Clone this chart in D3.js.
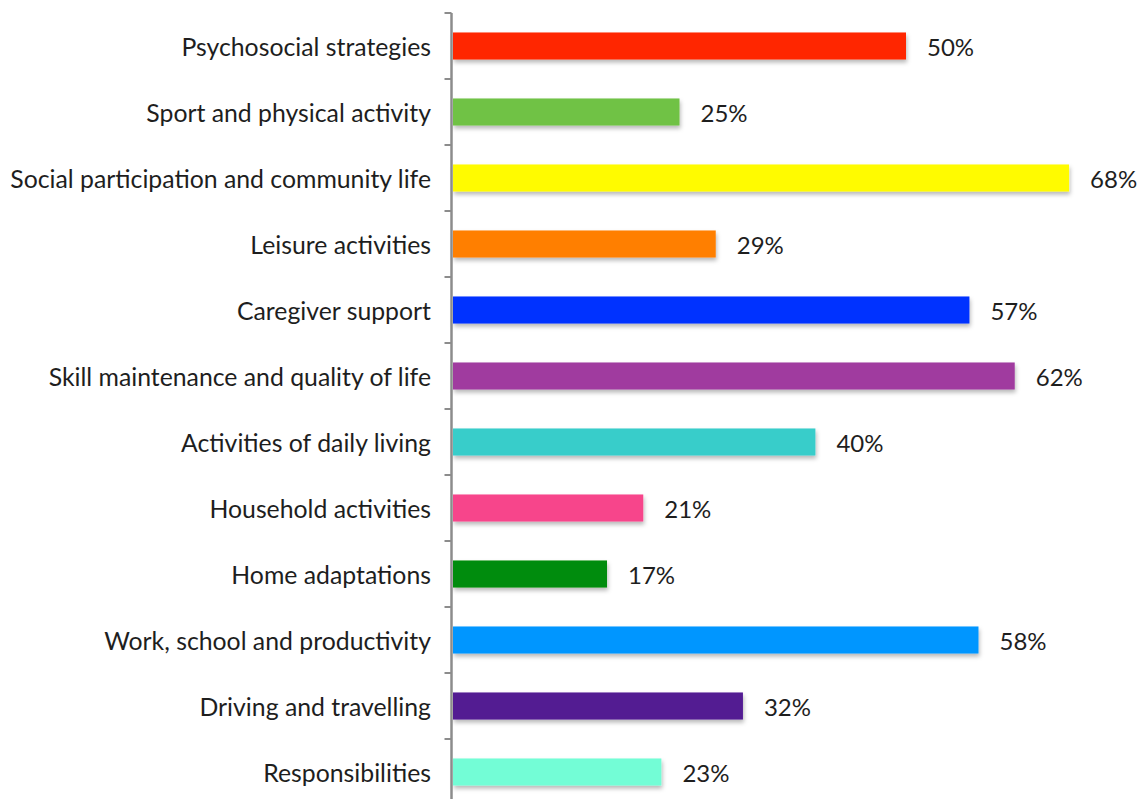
<!DOCTYPE html>
<html>
<head>
<meta charset="utf-8">
<script src="https://cdn.jsdelivr.net/npm/d3@7"></script>
<style>
  html, body { margin: 0; padding: 0; background: #fff; }
  svg { display: block; }
  text { font-family: Lato, "Open Sans", sans-serif; fill: #1e1e1e; }
</style>
</head>
<body>
<svg id="chart" width="1138" height="799"></svg>
<script>
// Share of interventions addressing each domain (%)
const categories = [
  "Psychosocial strategies",
  "Sport and physical activity",
  "Social participation and community life",
  "Leisure activities",
  "Caregiver support",
  "Skill maintenance and quality of life",
  "Activities of daily living",
  "Household activities",
  "Home adaptations",
  "Work, school and productivity",
  "Driving and travelling",
  "Responsibilities"
];
const values = [50, 25, 68, 29, 57, 62, 40, 21, 17, 58, 32, 23];
const colors = [
  "#ff2600", "#70c244", "#fffb00", "#ff7f00", "#0433ff", "#a03a9f",
  "#38cdca", "#f7448b", "#028c07", "#0096ff", "#521b92", "#73fdd6"
];

const svg = d3.select("#chart");

const defs = svg.append("defs");
const shadow = defs.append("filter").attr("id", "barShadow")
  .attr("x", "-5%").attr("y", "-30%").attr("width", "115%").attr("height", "180%");
shadow.append("feDropShadow")
  .attr("dx", 1).attr("dy", 3).attr("stdDeviation", 2)
  .attr("flood-color", "#000").attr("flood-opacity", 0.28);

const x = d3.scaleLinear().domain([0, 100]).range([453, 1359]);
const y = d3.scaleBand().domain(categories).range([13, 805])
  .paddingInner(0.59).paddingOuter(0.295);

// Bars
svg.append("g").selectAll("rect")
  .data(categories)
  .join("rect")
  .attr("x", x(0))
  .attr("y", d => y(d))
  .attr("width", (d, i) => x(values[i]) - x(0))
  .attr("height", y.bandwidth())
  .attr("fill", (d, i) => colors[i])
  .attr("filter", "url(#barShadow)");

// Category axis with ticks between bands
const axisX = 451.5;
const axis = svg.append("g");
axis.append("line")
  .attr("x1", axisX).attr("x2", axisX)
  .attr("y1", y.range()[0]).attr("y2", y.range()[1])
  .attr("stroke", "#8c8c8c").attr("stroke-width", 2.5);
const step = y.step();
const boundaries = d3.range(categories.length + 1).map(i => y.range()[0] + i * step);
axis.selectAll("line.tick")
  .data(boundaries)
  .join("line")
  .attr("class", "tick")
  .attr("x1", axisX - 7).attr("x2", axisX)
  .attr("y1", d => d).attr("y2", d => d)
  .attr("stroke", "#8c8c8c").attr("stroke-width", 2);

// Category labels
svg.append("g").selectAll("text")
  .data(categories)
  .join("text")
  .attr("x", 431)
  .attr("y", d => y(d) + y.bandwidth() / 2)
  .attr("dy", "0.42em")
  .attr("text-anchor", "end")
  .attr("font-size", 24.8)
  .text(d => d);

// Value labels
svg.append("g").selectAll("text")
  .data(categories)
  .join("text")
  .attr("x", (d, i) => x(values[i]) + 21)
  .attr("y", d => y(d) + y.bandwidth() / 2)
  .attr("dy", "0.42em")
  .attr("font-size", 24)
  .text((d, i) => values[i] + "%");
</script>
</body>
</html>
